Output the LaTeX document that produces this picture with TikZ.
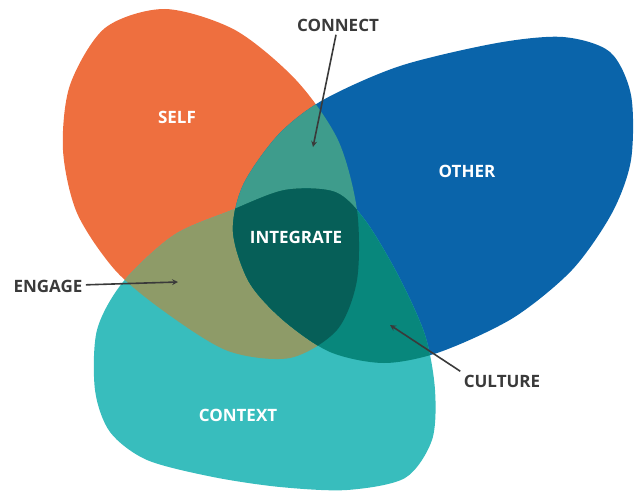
\documentclass[tikz,border=0pt]{standalone}
\usepackage{fontspec}
\setmainfont{Open Sans}
\usetikzlibrary{arrows}

\definecolor{selfcol}{HTML}{EE6F3F}
\definecolor{othercol}{HTML}{0A64AA}
\definecolor{contextcol}{HTML}{38BDBD}
\definecolor{selfother}{HTML}{3E9C8C}
\definecolor{selfcontext}{HTML}{8E9B68}
\definecolor{othercontext}{HTML}{08877C}
\definecolor{allthree}{HTML}{065F58}
\definecolor{labelcol}{HTML}{3A3A3A}

\newcommand{\selfblob}{plot[smooth cycle] coordinates {(165,9) (235,30) (296,80) (338,140) (357,210) (357,280) (337,330) (290,358) (228,351) (165,312) (115,270) (77,213) (63,150) (70,85) (105,28)}}
\newcommand{\otherblob}{plot[smooth cycle] coordinates {(323,100) (400,66) (497,43) (563,37) (610,52) (631,95) (631,160) (612,213) (572,270) (513,318) (440,352) (384,363) (330,352) (283,320) (249,282) (233,232) (243,185) (278,135)}}
\newcommand{\contextblob}{plot[smooth cycle] coordinates {(123,282) (174,235) (232,210) (285,190) (335,192) (365,220) (398,275) (425,335) (435,390) (432,440) (405,478) (347,490) (280,487) (213,477) (147,460) (110,432) (95,390) (97,330)}}

\begin{document}
\begin{tikzpicture}[x=1pt,y=-1pt,
  blobname/.style={text=white,font=\bfseries\fontsize{17}{20}\selectfont},
  callout/.style={text=labelcol,font=\bfseries\fontsize{17}{20}\selectfont},
  pointer/.style={-stealth,line width=1.6pt,draw=labelcol}]
\useasboundingbox (0,0) rectangle (634,495);

\fill[selfcol] \selfblob;
\fill[othercol] \otherblob;
\fill[contextcol] \contextblob;
\begin{scope}
  \clip \selfblob;
  \fill[selfother] \otherblob;
  \fill[selfcontext] \contextblob;
  \clip \otherblob;
  \fill[allthree] \contextblob;
\end{scope}
\begin{scope}
  \clip \otherblob;
  \clip \contextblob;
  \fill[othercontext] (0,0) rectangle (634,495);
  \clip \selfblob;
  \fill[allthree] (0,0) rectangle (634,495);
\end{scope}

\node[blobname] (self) at (177,117) {SELF};
\node[blobname] (other) at (467,171) {OTHER};
\node[blobname] (integrate) at (296,237) {INTEGRATE};
\node[blobname] (context) at (238,415) {CONTEXT};

\node[callout] (connect) at (338,25) {CONNECT};
\node[callout] (engage) at (48,286) {ENGAGE};
\node[callout] (culture) at (502,381) {CULTURE};

\coordinate (connecttip) at (313,147);
\coordinate (engagetip) at (178,282);
\coordinate (culturetip) at (390,325);

\draw[pointer] (connect) -- (connecttip);
\draw[pointer] (engage) -- (engagetip);
\draw[pointer] (culture.north west) -- (culturetip);
\end{tikzpicture}
\end{document}
